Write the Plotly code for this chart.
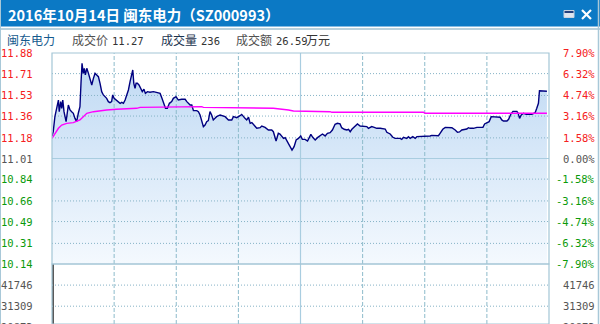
import plotly.graph_objects as go

# ---------------- data ----------------
pre_close = 11.01
price_ticks = [11.88, 11.71, 11.53, 11.36, 11.18, 11.01, 10.84, 10.66, 10.49, 10.31, 10.14]
pct_labels = ["7.90%", "6.32%", "4.74%", "3.16%", "1.58%", "0.00%",
              "-1.58%", "-3.16%", "-4.74%", "-6.32%", "-7.90%"]
vol_ticks = [41746, 31309, 20873]
time_ticks = [30, 60, 90, 120, 150, 180, 210]

minutes = [0.0, 0.6, 1.4, 2.2, 3.1, 3.5, 4.2, 4.7, 5.2, 5.8, 6.8, 7.9, 8.7, 9.5, 10.3, 11.1, 11.9, 12.7, 13.5,
           14.0, 14.5, 15.1, 15.6, 16.1, 16.8, 17.6, 18.4, 19.2, 20.0, 20.8, 21.6, 22.4, 23.2, 24.0, 24.8, 25.6,
           26.4, 27.2, 28.0, 28.8, 29.3, 30.0, 30.9, 32.0, 32.9, 33.7, 34.5, 35.3, 36.1, 36.9, 37.7, 38.5, 39.0,
           39.5, 40.1, 40.6, 41.2, 42.0, 42.8, 43.6, 44.4, 45.1, 46.1, 47.3, 49.0, 50.6, 52.2, 53.1, 54.1, 54.8,
           55.7, 56.7, 57.8, 58.6, 59.9, 61.0, 62.6, 64.3, 65.1, 65.9, 66.7, 67.5, 68.3, 69.9, 70.7, 71.5, 72.3,
           73.1, 73.9, 74.7, 75.5, 76.3, 77.1, 77.9, 78.7, 79.5, 81.2, 82.0, 83.6, 85.2, 86.8, 87.6, 89.2, 90.8,
           91.6, 93.2, 94.0, 94.9, 95.7, 96.5, 97.3, 98.9, 100.5, 101.3, 102.9, 104.5, 106.1, 106.9, 108.2, 109.3,
           110.1, 111.8, 112.6, 113.4, 115.0, 115.9, 116.9, 117.9, 119.0, 120.1, 120.9, 122.2, 123.4, 124.2,
           125.0, 125.9, 127.1, 128.2, 129.5, 130.6, 131.9, 133.0, 134.3, 135.4, 136.7, 137.8, 139.1, 139.9,
           141.1, 142.4, 143.2, 144.0, 144.8, 145.9, 146.9, 147.5, 148.8, 150.4, 152.0, 152.8, 154.4, 155.6,
           156.8, 158.5, 160.1, 160.9, 161.7, 163.3, 164.6, 165.7, 168.1, 168.9, 169.7, 171.3, 172.1, 173.0,
           174.2, 175.4, 176.2, 177.8, 178.6, 179.4, 181.0, 182.6, 183.4, 186.6, 187.4, 188.7, 189.9, 193.1,
           194.7, 195.8, 196.8, 197.9, 200.3, 201.1, 201.9, 203.5, 205.2, 208.1, 208.9, 210.0, 211.1, 212.1,
           213.2, 214.8, 216.4, 217.2, 218.0, 219.7, 220.5, 221.6, 222.6, 224.5, 225.1, 225.8, 226.6, 227.7,
           229.0, 231.7, 232.5, 233.3, 234.1, 234.9, 235.4, 236.6, 239.0]
prices = [11.196, 11.231, 11.355, 11.424, 11.492, 11.396, 11.479, 11.424, 11.492, 11.396, 11.314, 11.451, 11.410,
          11.396, 11.383, 11.341, 11.314, 11.383, 11.437, 11.630, 11.795, 11.712, 11.754, 11.699, 11.754, 11.712,
          11.657, 11.616, 11.671, 11.712, 11.699, 11.685, 11.630, 11.561, 11.534, 11.520, 11.506, 11.479, 11.471,
          11.479, 11.534, 11.506, 11.492, 11.479, 11.465, 11.473, 11.465, 11.492, 11.534, 11.575, 11.644, 11.699,
          11.740, 11.630, 11.589, 11.630, 11.630, 11.616, 11.589, 11.561, 11.581, 11.547, 11.561, 11.556, 11.561,
          11.553, 11.547, 11.506, 11.465, 11.424, 11.424, 11.465, 11.479, 11.506, 11.520, 11.492, 11.498, 11.498,
          11.479, 11.465, 11.451, 11.451, 11.405, 11.405, 11.396, 11.369, 11.314, 11.273, 11.286, 11.314, 11.322,
          11.396, 11.369, 11.328, 11.341, 11.355, 11.369, 11.363, 11.355, 11.328, 11.328, 11.355, 11.347, 11.363,
          11.374, 11.341, 11.328, 11.350, 11.300, 11.306, 11.292, 11.259, 11.264, 11.278, 11.267, 11.245, 11.245,
          11.231, 11.154, 11.218, 11.212, 11.176, 11.182, 11.157, 11.108, 11.080, 11.108, 11.163, 11.176, 11.196,
          11.168, 11.168, 11.154, 11.176, 11.209, 11.185, 11.163, 11.182, 11.196, 11.212, 11.196, 11.218, 11.223,
          11.245, 11.292, 11.300, 11.295, 11.264, 11.251, 11.245, 11.251, 11.231, 11.251, 11.267, 11.286, 11.295,
          11.278, 11.273, 11.273, 11.259, 11.273, 11.267, 11.259, 11.259, 11.253, 11.253, 11.226, 11.212, 11.185,
          11.176, 11.176, 11.168, 11.185, 11.176, 11.190, 11.176, 11.190, 11.176, 11.190, 11.190, 11.196, 11.190,
          11.190, 11.196, 11.201, 11.198, 11.218, 11.251, 11.267, 11.264, 11.245, 11.226, 11.229, 11.245, 11.253,
          11.264, 11.259, 11.259, 11.267, 11.267, 11.295, 11.308, 11.314, 11.355, 11.355, 11.355, 11.350, 11.328,
          11.319, 11.319, 11.333, 11.377, 11.399, 11.399, 11.383, 11.341, 11.369, 11.383, 11.374, 11.374, 11.383,
          11.388, 11.424, 11.465, 11.569, 11.569, 11.564]

avg_minutes = [0.0, 1.4, 3.1, 4.7, 7.1, 10.3, 11.9, 13.5, 15.1, 16.8, 20.0, 23.2, 26.4, 31.2, 40.9, 42.5,
               58.6, 72.3, 73.1, 92.4, 106.9, 114.2, 116.6, 134.3, 135.1, 179.4, 180.2, 239.0]
avg_prices = [11.176, 11.218, 11.259, 11.286, 11.300, 11.306, 11.314, 11.328, 11.355, 11.383, 11.396, 11.404,
              11.410, 11.416, 11.424, 11.432, 11.438, 11.438, 11.432, 11.424, 11.424, 11.410, 11.402, 11.396,
              11.391, 11.391, 11.383, 11.383]

vol_minutes = [0.4]
volumes = [60000]

header_name = "闽东电力"
header_items = [("成交价", "11.27"), ("成交量", "236"), ("成交额", "26.59")]
title_text = "2016年10月14日 闽东电力（SZ000993）"

# ---------------- layout constants ----------------
W, H = 600, 324
PL, PR = 52, 549          # plot left/right pixel
PT, PM = 53, 264          # price top / price bottom pixel
def px(X): return X / W
def py(Y): return (H - Y) / H

p_lo, p_hi = price_ticks[-1], price_ticks[0]
step_px = (PM - PT) / (len(price_ticks) - 1)
vstep = vol_ticks[0] - vol_ticks[1]
v_hi = vol_ticks[0] + vstep
v_lo = v_hi - (H - PM) / step_px * vstep

MONO = "DejaVu Sans Mono"
CJK = "Noto Sans CJK SC"
GRID_DOT = "#86b3c6"
GRID_DASH = "#8dbbcb"
GRID_SOLID = "#a9cde0"
BORDER = "#a3c6d6"

fig = go.Figure()

# gradient fill under price line
fig.add_trace(go.Scatter(
    x=minutes, y=prices, mode="lines", line=dict(width=0, color="rgba(0,0,0,0)"),
    fill="tozeroy",
    fillgradient=dict(type="vertical", start=p_lo, stop=p_hi,
                      colorscale=[[0, "#f4f9fe"], [1, "#bdd8f3"]]),
    hoverinfo="skip", showlegend=False, xaxis="x", yaxis="y"))

def hlines(vals, x0, x1):
    xs, ys = [], []
    for v in vals:
        xs += [x0, x1, None]
        ys += [v, v, None]
    return xs, ys

def vlines(vals, y0, y1):
    xs, ys = [], []
    for v in vals:
        xs += [v, v, None]
        ys += [y0, y1, None]
    return xs, ys

# price-area grid
inner = [t for t in price_ticks[1:-1] if t != pre_close]
gx, gy = hlines(inner, 0, 240)
fig.add_trace(go.Scatter(x=gx, y=gy, mode="lines", line=dict(color=GRID_DOT, width=1, dash="1px,2px"),
                         hoverinfo="skip", showlegend=False, xaxis="x", yaxis="y"))
gx, gy = hlines([pre_close], 0, 240)
fig.add_trace(go.Scatter(x=gx, y=gy, mode="lines", line=dict(color=GRID_SOLID, width=1.2),
                         hoverinfo="skip", showlegend=False, xaxis="x", yaxis="y"))
dashed_t = [t for t in time_ticks if t != 120]
gx, gy = vlines(dashed_t, p_lo, p_hi)
fig.add_trace(go.Scatter(x=gx, y=gy, mode="lines", line=dict(color=GRID_DASH, width=1, dash="4px,2px"),
                         hoverinfo="skip", showlegend=False, xaxis="x", yaxis="y"))
gx, gy = vlines([120], p_lo, p_hi)
fig.add_trace(go.Scatter(x=gx, y=gy, mode="lines", line=dict(color=GRID_SOLID, width=1.2),
                         hoverinfo="skip", showlegend=False, xaxis="x", yaxis="y"))

# volume-area grid
gx, gy = hlines(vol_ticks[:2], 0, 240)
fig.add_trace(go.Scatter(x=gx, y=gy, mode="lines", line=dict(color=GRID_DOT, width=1, dash="1px,2px"),
                         hoverinfo="skip", showlegend=False, xaxis="x", yaxis="y2"))
gx, gy = vlines(dashed_t, v_lo, v_hi)
fig.add_trace(go.Scatter(x=gx, y=gy, mode="lines", line=dict(color=GRID_DASH, width=1, dash="4px,2px"),
                         hoverinfo="skip", showlegend=False, xaxis="x", yaxis="y2"))
gx, gy = vlines([120], v_lo, v_hi)
fig.add_trace(go.Scatter(x=gx, y=gy, mode="lines", line=dict(color=GRID_SOLID, width=1.2),
                         hoverinfo="skip", showlegend=False, xaxis="x", yaxis="y2"))

# price and average lines
fig.add_trace(go.Scatter(x=minutes, y=prices, mode="lines", line=dict(color="#000080", width=1.4),
                         hoverinfo="skip", showlegend=False, xaxis="x", yaxis="y"))
fig.add_trace(go.Scatter(x=avg_minutes, y=avg_prices, mode="lines", line=dict(color="#ff00ff", width=1.4),
                         hoverinfo="skip", showlegend=False, xaxis="x", yaxis="y"))

# volume
fig.add_trace(go.Bar(x=vol_minutes, y=volumes, width=1.6, marker=dict(color="#5a5a5a", line=dict(width=0)),
                     hoverinfo="skip", showlegend=False, xaxis="x", yaxis="y2"))

shapes = [
    # title bar
    dict(type="rect", xref="paper", yref="paper", x0=px(0), x1=px(W), y0=py(26.5), y1=py(0),
         fillcolor="#0b79c5", line=dict(width=0), layer="below"),
    dict(type="line", xref="paper", yref="paper", x0=px(0), x1=px(W), y0=py(29), y1=py(29),
         line=dict(color="#a2c2d2", width=1.5)),
    # outer frame
    dict(type="line", xref="paper", yref="paper", x0=px(0.5), x1=px(0.5), y0=py(H), y1=py(0),
         line=dict(color="#a8c8d8", width=1)),
    dict(type="line", xref="paper", yref="paper", x0=px(598.5), x1=px(598.5), y0=py(H), y1=py(0),
         line=dict(color="#a8c8d8", width=1.5)),
    # plot borders
    dict(type="rect", xref="x domain", yref="y domain", x0=0, x1=1, y0=0, y1=1,
         line=dict(color=BORDER, width=1.2)),
    dict(type="rect", xref="x domain", yref="y2 domain", x0=0, x1=1, y0=0, y1=1,
         line=dict(color=BORDER, width=1.2)),
    # window icons
    dict(type="rect", xref="paper", yref="paper", x0=px(564), x1=px(574), y0=py(17.5), y1=py(10.5),
         fillcolor="#dfe5ef", line=dict(color="#c9d2e0", width=1)),
    dict(type="rect", xref="paper", yref="paper", x0=px(564.5), x1=px(573.5), y0=py(13), y1=py(11),
         fillcolor="#23407e", line=dict(width=0)),
    dict(type="line", xref="paper", yref="paper", x0=px(582), x1=px(591), y0=py(10), y1=py(19),
         line=dict(color="white", width=2.2)),
    dict(type="line", xref="paper", yref="paper", x0=px(582), x1=px(591), y0=py(19), y1=py(10),
         line=dict(color="white", width=2.2)),
]

annotations = []
# title
annotations.append(dict(xref="paper", yref="paper", x=px(6), y=py(14.5), xanchor="left", yanchor="middle",
                        text="<b>" + title_text + "</b>", showarrow=False,
                        font=dict(family=CJK, size=14.5, color="white")))
# header row
HY = 39.5
annotations.append(dict(xref="paper", yref="paper", x=px(4.5), y=py(HY), xanchor="left", yanchor="middle",
                        text=header_name, showarrow=False, font=dict(family=CJK, size=12, color="#155a8e")))
label_x = [70, 158.5, 234]
label_colors = ["#505050", "#1c3450", "#505050"]
for (lab, val), lx, lc in zip(header_items, label_x, label_colors):
    annotations.append(dict(xref="paper", yref="paper", x=px(lx), y=py(HY), xanchor="left", yanchor="middle",
                            text=lab, showarrow=False, font=dict(family=CJK, size=12, color=lc)))
    annotations.append(dict(xref="paper", yref="paper", x=px(lx + 40), y=py(HY + 1), xanchor="left",
                            yanchor="middle", text=val, showarrow=False,
                            font=dict(family=MONO, size=10.5, color="#333333")))
annotations.append(dict(xref="paper", yref="paper", x=px(304.5), y=py(HY), xanchor="left", yanchor="middle",
                        text="万元", showarrow=False, font=dict(family=CJK, size=12, color="#333333")))

# axis labels
def tick_color(v):
    if v > pre_close + 1e-9:
        return "#f52020"
    if v < pre_close - 1e-9:
        return "#0a9a0a"
    return "#555555"

for v, pl in zip(price_ticks, pct_labels):
    c = tick_color(v)
    annotations.append(dict(xref="paper", yref="y", x=px(34.5), y=v, xanchor="right", yanchor="middle",
                            text=f"{v:.2f}", showarrow=False, font=dict(family=MONO, size=10.5, color=c)))
    annotations.append(dict(xref="paper", yref="y", x=px(597), y=v, xanchor="right", yanchor="middle",
                            text=pl, showarrow=False, font=dict(family=MONO, size=10.5, color=c)))

vol_dom = (H - PM) / H
for v in vol_ticks:
    yp = (v - v_lo) / (v_hi - v_lo) * vol_dom
    annotations.append(dict(xref="paper", yref="paper", x=px(34.5), y=yp, xanchor="right", yanchor="middle",
                            text=str(v), showarrow=False, font=dict(family=MONO, size=10.5, color="#555555")))
    annotations.append(dict(xref="paper", yref="paper", x=px(597), y=yp, xanchor="right", yanchor="middle",
                            text=str(v), showarrow=False, font=dict(family=MONO, size=10.5, color="#555555")))

fig.update_layout(
    width=W, height=H, margin=dict(l=0, r=0, t=0, b=0),
    paper_bgcolor="white", plot_bgcolor="white",
    showlegend=False, hovermode=False, bargap=0,
    xaxis=dict(domain=[px(PL), px(PR)], range=[0, 240], visible=False, anchor="y", fixedrange=True),
    yaxis=dict(domain=[py(PM), py(PT)], range=[p_lo, p_hi], visible=False, anchor="x", fixedrange=True),
    yaxis2=dict(domain=[0, py(PM)], range=[v_lo, v_hi], visible=False, anchor="x", fixedrange=True),
    shapes=shapes, annotations=annotations,
)

fig.write_html("out.html", config={"displayModeBar": False})
